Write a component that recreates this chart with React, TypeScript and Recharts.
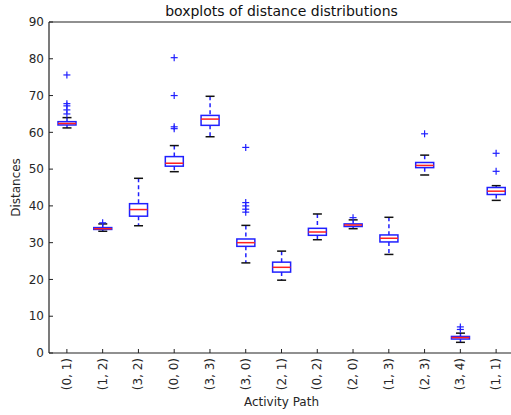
import { ComposedChart, Bar, Scatter, XAxis, YAxis } from "recharts";

// activity paths, in plotting order
const categories = [
  "(0, 1)", "(1, 2)", "(3, 2)", "(0, 0)", "(3, 3)", "(3, 0)", "(2, 1)",
  "(0, 2)", "(2, 0)", "(1, 3)", "(2, 3)", "(3, 4)", "(1, 1)",
];

// five-number summaries
const whiskerLow = [61.2, 33.1, 34.6, 49.3, 58.8, 24.5, 19.8, 30.8, 33.8, 26.8, 48.4, 2.9, 41.5];
const q1 = [62.0, 33.6, 37.2, 50.8, 61.9, 29.0, 22.0, 32.0, 34.4, 30.2, 50.4, 3.8, 43.1];
const medians = [62.4, 33.8, 39.0, 51.6, 63.6, 30.0, 23.3, 32.9, 34.8, 31.2, 51.0, 4.2, 44.0];
const q3 = [62.9, 34.1, 40.6, 53.4, 64.6, 31.0, 24.7, 33.9, 35.1, 32.1, 51.8, 4.5, 45.0];
const whiskerHigh = [64.0, 35.1, 47.5, 56.4, 69.8, 34.7, 27.7, 37.8, 36.2, 36.9, 53.8, 5.4, 45.5];

// fliers per category
const outliers: number[][] = [
  [65.0, 66.1, 67.2, 67.8, 75.6],
  [35.4],
  [],
  [61.0, 61.5, 70.0, 80.3],
  [],
  [38.3, 39.1, 40.0, 40.9, 55.9],
  [],
  [],
  [36.8],
  [],
  [59.6],
  [6.4, 7.1],
  [49.4, 54.3],
];

const yTicks = [0, 10, 20, 30, 40, 50, 60, 70, 80, 90];

const rows = categories.map((name, i) => ({
  x: i + 1,
  name,
  lo: whiskerLow[i],
  q1: q1[i],
  med: medians[i],
  q3: q3[i],
  hi: whiskerHigh[i],
}));

const fliers = outliers.flatMap((vals, i) => vals.map((v) => ({ x: i + 1, v })));
const positions = categories.map((_, i) => i + 1);

const FONT = "'DejaVu Sans', sans-serif";
const TEXT = "#262626";
const SPINE = "#222";
const BLUE = "#2020ff";

function BoxShape(props: any) {
  const { x, y, width, height } = props;
  const d = props.payload ?? props;
  if (x == null || y == null || !height) return null;
  // map a value into the bar's pixel span (bar covers lo..hi)
  const py = (v: number) => y + ((d.hi - v) / (d.hi - d.lo)) * height;
  const cx = x + width / 2;
  const cap = width / 4;
  return (
    <g>
      <line x1={cx} x2={cx} y1={py(d.hi)} y2={py(d.q3)} stroke={BLUE} strokeWidth={1.5} strokeDasharray="4 3" />
      <line x1={cx} x2={cx} y1={py(d.q1)} y2={py(d.lo)} stroke={BLUE} strokeWidth={1.5} strokeDasharray="4 3" />
      <line x1={cx - cap} x2={cx + cap} y1={py(d.hi)} y2={py(d.hi)} stroke="#111" strokeWidth={1.5} />
      <line x1={cx - cap} x2={cx + cap} y1={py(d.lo)} y2={py(d.lo)} stroke="#111" strokeWidth={1.5} />
      <rect
        x={x}
        y={py(d.q3)}
        width={width}
        height={Math.max(py(d.q1) - py(d.q3), 1)}
        fill="none"
        stroke={BLUE}
        strokeWidth={1.5}
      />
      <line x1={x} x2={x + width} y1={py(d.med)} y2={py(d.med)} stroke="#ff2020" strokeWidth={1.5} />
    </g>
  );
}

function Plus(props: any) {
  const { cx, cy } = props;
  if (cx == null || cy == null) return null;
  return (
    <g stroke={BLUE} strokeWidth={1.2}>
      <line x1={cx - 3.5} x2={cx + 3.5} y1={cy} y2={cy} />
      <line x1={cx} x2={cx} y1={cy - 3.5} y2={cy + 3.5} />
    </g>
  );
}

function XTick(props: any) {
  const { x, y, payload } = props;
  return (
    <text
      x={x}
      y={y}
      transform={`rotate(-90 ${x} ${y})`}
      textAnchor="end"
      dominantBaseline="central"
      fontSize={12}
      fontFamily={FONT}
      fill={TEXT}
    >
      {categories[payload.value - 1]}
    </text>
  );
}

function YLabel(props: any) {
  const vb = props.viewBox;
  const x = vb.x + 16;
  const y = vb.y + vb.height / 2;
  return (
    <text
      x={x}
      y={y}
      transform={`rotate(-90 ${x} ${y})`}
      textAnchor="middle"
      dominantBaseline="central"
      fontSize={12}
      fontFamily={FONT}
      fill={TEXT}
    >
      Distances
    </text>
  );
}

function Title(props: any) {
  const vb = props.viewBox;
  return (
    <text
      x={vb.x + vb.width / 2}
      y={vb.y + vb.height - 6}
      textAnchor="middle"
      fontSize={14}
      fontFamily={FONT}
      fill="#111"
    >
      boxplots of distance distributions
    </text>
  );
}

export default function App() {
  return (
    <div
      style={{
        position: "absolute",
        left: 0,
        top: 0,
        width: 511,
        height: 415,
        overflow: "hidden",
        background: "#fff",
      }}
    >
      <ComposedChart
        width={517}
        height={415}
        data={rows}
        margin={{ top: 2, right: 3, bottom: 0, left: 0 }}
      >
        <XAxis
          dataKey="x"
          type="number"
          domain={[0.5, 13.5]}
          ticks={positions}
          allowDataOverflow
          height={62}
          tickSize={-4}
          tickMargin={9}
          tickLine={{ stroke: SPINE }}
          axisLine={{ stroke: SPINE, strokeWidth: 1.2 }}
          tick={<XTick />}
          interval={0}
          label={{
            value: "Activity Path",
            position: "insideBottom",
            offset: 9,
            fill: TEXT,
            fontSize: 12,
            fontFamily: FONT,
          }}
        />
        <XAxis
          xAxisId="top"
          dataKey="x"
          type="number"
          orientation="top"
          domain={[0.5, 13.5]}
          ticks={positions}
          allowDataOverflow
          height={20}
          tick={false}
          tickSize={-4}
          tickLine={{ stroke: SPINE }}
          axisLine={{ stroke: SPINE, strokeWidth: 1.2 }}
          interval={0}
          label={{ content: <Title /> }}
        />
        <YAxis
          type="number"
          domain={[0, 90]}
          ticks={yTicks}
          allowDataOverflow
          width={49}
          tickSize={-4}
          tickMargin={9}
          interval={0}
          tickLine={{ stroke: SPINE }}
          axisLine={{ stroke: SPINE, strokeWidth: 1.2 }}
          tick={{ fill: TEXT, fontSize: 12, fontFamily: FONT }}
          label={{ content: <YLabel /> }}
        />
        <YAxis
          yAxisId="right"
          orientation="right"
          type="number"
          domain={[0, 90]}
          ticks={yTicks}
          allowDataOverflow
          width={0}
          tick={false}
          tickSize={-4}
          interval={0}
          tickLine={{ stroke: SPINE }}
          axisLine={false}
        />
        <Bar
          dataKey={(d: any) => [d.lo, d.hi]}
          barSize={18}
          shape={<BoxShape />}
          isAnimationActive={false}
        />
        <Scatter
          data={fliers}
          dataKey="v"
          shape={<Plus />}
          isAnimationActive={false}
        />
      </ComposedChart>
    </div>
  );
}
